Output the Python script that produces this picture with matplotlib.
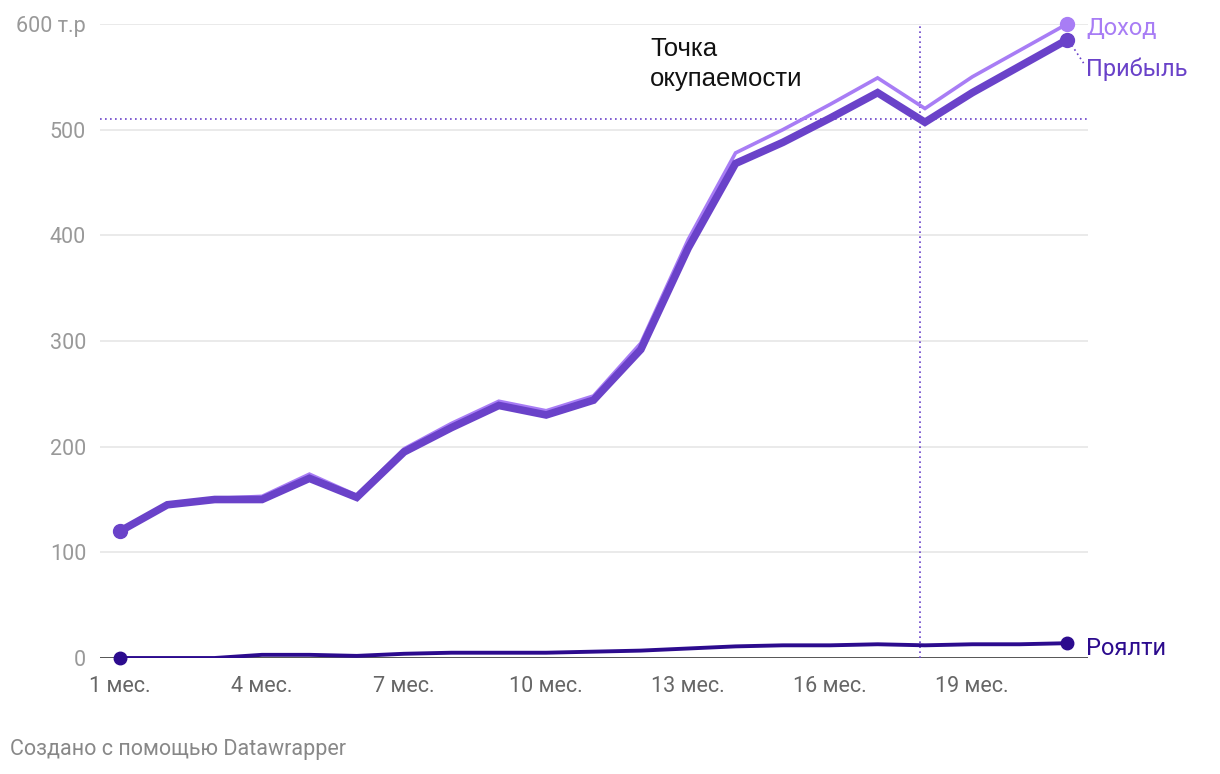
import matplotlib.pyplot as plt

plt.rcParams['font.family'] = ['Roboto', 'DejaVu Sans']

# Data (тыс. руб.)
months = list(range(1, 22))
income = [120, 146, 151, 153, 174, 154, 198, 222, 243, 234, 248, 298, 396, 478,
          500, 524, 549, 520, 550, 575, 600]
profit = [120, 145, 150, 150, 170, 152, 195, 218, 239, 230, 244, 292, 388, 468,
          488, 511, 535, 507, 535, 560, 585]
royalty = [0, 0, 0, 3, 3, 2, 4, 5, 5, 5, 6, 7, 9, 11, 12, 12, 13, 12, 13, 13, 14]
tick_months = [1, 4, 7, 10, 13, 16, 19]
tick_labels = [f'{m} мес.' for m in tick_months]
y_ticks = [0, 100, 200, 300, 400, 500, 600]
y_labels = ['0', '100', '200', '300', '400', '500', '600 т.р']
breakeven_value = 510
breakeven_month = 17.9

c_income = '#a87df5'
c_profit = '#6a42c9'
c_royalty = '#2c0b8e'

fig = plt.figure(figsize=(12.2, 7.74), dpi=100)
ax = fig.add_axes([100/1220, 116/774, 988/1220, 634/774])
ax.set_xlim(1 - 20/47.35, 1 + 968/47.35)
ax.set_ylim(0, 600)

for yt in y_ticks[1:]:
    ax.axhline(yt, color='#e6e6e6', lw=1.2, zorder=0)
ax.axhline(0, color='#222222', lw=1.8, zorder=1)

# breakeven lines
ax.axhline(breakeven_value, color=c_profit, lw=1.2, ls=(0, (1, 2)), zorder=2)
ax.axvline(breakeven_month, color=c_profit, lw=1.2, ls=(0, (1, 2)), zorder=2)

ax.plot(months, income, color=c_income, lw=2.6, zorder=3, solid_joinstyle='miter')
ax.plot(months, profit, color=c_profit, lw=5.5, zorder=4, solid_joinstyle='miter')
ax.plot(months, royalty, color=c_royalty, lw=2.8, zorder=5)

ax.plot([months[-1]], [income[-1]], 'o', color=c_income, ms=10, zorder=6, clip_on=False)
ax.plot([months[0], months[-1]], [profit[0], profit[-1]], 'o', color=c_profit, ms=10,
        zorder=6, clip_on=False)
ax.plot([months[0], months[-1]], [royalty[0], royalty[-1]], 'o', color=c_royalty, ms=9,
        zorder=6, clip_on=False)

# leader line to Прибыль label
ax.plot([21.1, 21.35], [580, 563], color=c_profit, lw=1.2, ls=(0, (1, 2)), clip_on=False)

ax.text(21.4, 596, 'Доход', color=c_income, fontsize=17, va='center', ha='left')
ax.text(21.4, 557, 'Прибыль', color=c_profit, fontsize=17, va='center', ha='left')
ax.text(21.4, 9, 'Роялти', color=c_royalty, fontsize=17, va='center', ha='left')

ax.text(12.2, 562, 'Точка\nокупаемости', color='#111111', fontsize=18.5,
        va='center', ha='left', linespacing=1.3, family='Liberation Sans')

ax.set_xticks(tick_months)
ax.set_xticklabels(tick_labels, fontsize=15.5, color='#666666')
ax.set_yticks(y_ticks)
ax.set_yticklabels(y_labels, fontsize=15.5, color='#999999')
ax.tick_params(length=0, pad=10)
ax.tick_params(axis='x', pad=13)
for s in ax.spines.values():
    s.set_visible(False)

fig.text(10/1220, 1 - 750/774, 'Создано с помощью Datawrapper', fontsize=15.5,
         color='#888888', va='center', ha='left')

fig.savefig('out.png', dpi=100)
